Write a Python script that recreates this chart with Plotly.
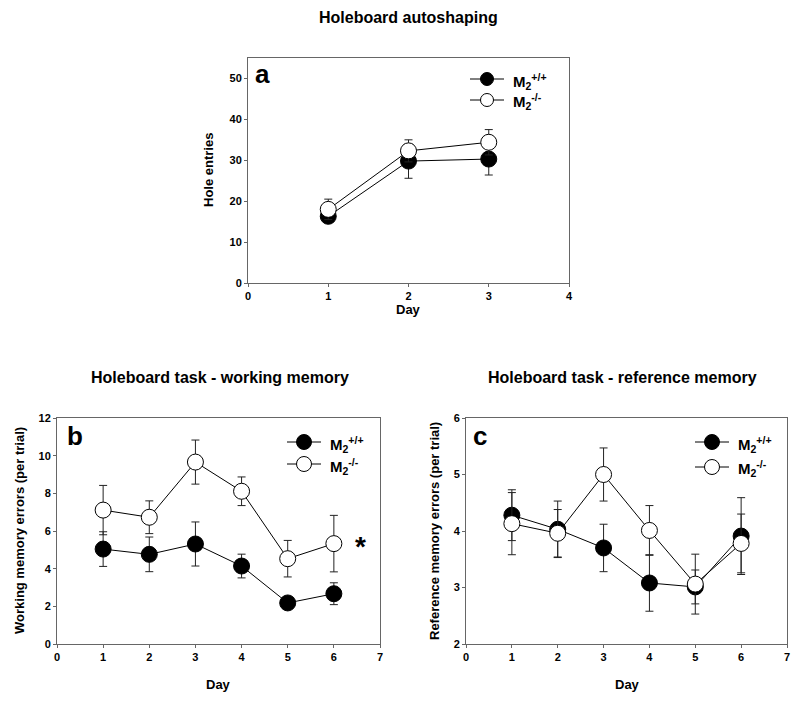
import plotly.graph_objects as go

# ---------------- data ----------------
days_a = [1, 2, 3]
a_wt = [16.3, 29.8, 30.3]
a_wt_err = [1.5, 4.2, 3.9]
a_ko = [18.0, 32.3, 34.4]
a_ko_err = [2.5, 2.7, 3.1]

days_bc = [1, 2, 3, 4, 5, 6]
b_wt = [5.04, 4.76, 5.31, 4.14, 2.18, 2.67]
b_wt_err = [0.92, 0.92, 1.17, 0.63, 0.25, 0.58]
b_ko = [7.11, 6.73, 9.66, 8.11, 4.53, 5.33]
b_ko_err = [1.31, 0.87, 1.17, 0.76, 0.97, 1.50]

c_wt = [4.28, 4.03, 3.70, 3.08, 3.01, 3.91]
c_wt_err = [0.45, 0.50, 0.42, 0.50, 0.30, 0.68]
c_ko = [4.13, 3.96, 5.00, 4.01, 3.06, 3.78]
c_ko_err = [0.55, 0.42, 0.47, 0.44, 0.53, 0.52]

titles = ["Holeboard autoshaping", "Holeboard task - working memory",
          "Holeboard task - reference memory"]
ytitles = ["Hole entries", "Working memory errors (per trial)",
           "Reference memory errors (per trial)"]
letters = ["a", "b", "c"]
legend_labels = ["M<sub>2</sub><sup>+/+</sup>", "M<sub>2</sub><sup>-/-</sup>"]

W, H = 800, 705
OFF = 8  # page body margin offset
FONT = "Liberation Sans, Arial, sans-serif"

def px(x):
    return (x - OFF) / W

def py(y):
    return 1 - (y - OFF) / H

# panel pixel boxes (screen coords): (left, right, top, bottom)
boxes = [(248, 569, 58, 283), (57, 380, 418, 644), (466, 787, 418, 644)]

fig = go.Figure()

series = [
    (days_a, a_wt, a_wt_err, a_ko, a_ko_err),
    (days_bc, b_wt, b_wt_err, b_ko, b_ko_err),
    (days_bc, c_wt, c_wt_err, c_ko, c_ko_err),
]

for i, (d, wt, wte, ko, koe) in enumerate(series):
    xa = "x" if i == 0 else f"x{i+1}"
    ya = "y" if i == 0 else f"y{i+1}"
    for vals, errs, fill in [(wt, wte, "black"), (ko, koe, "white")]:
        fig.add_trace(go.Scatter(
            x=d, y=vals, xaxis=xa, yaxis=ya, mode="lines+markers",
            line=dict(color="black", width=1),
            marker=dict(size=16, color=fill, line=dict(color="black", width=1)),
            error_y=dict(type="data", array=errs, visible=True,
                         color="#222", thickness=1, width=4),
            showlegend=False, hoverinfo="skip"))

axis_common = dict(showgrid=False, zeroline=False, showline=True, mirror=True,
                   linecolor="#666", linewidth=1, ticks="outside", ticklen=3,
                   tickcolor="#666", automargin=False,
                   tickfont=dict(family=FONT, size=11, color="black", weight="bold"))

xranges = [[0, 4], [0, 7], [0, 7]]
yranges = [[0, 55], [0, 12], [2, 6]]
ydticks = [10, 2, 1]

layout = dict(width=W, height=H, margin=dict(l=0, r=0, t=0, b=0, autoexpand=False),
              plot_bgcolor="white", paper_bgcolor="white", showlegend=False,
              template="none")

for i, (l, r, t, b) in enumerate(boxes):
    sx = "" if i == 0 else str(i + 1)
    layout["xaxis" + sx] = dict(axis_common, domain=[px(l), px(r)],
                                range=xranges[i], dtick=1, tick0=0,
                                anchor="y" + sx)
    layout["yaxis" + sx] = dict(axis_common, domain=[py(b), py(t)],
                                range=yranges[i], dtick=ydticks[i],
                                tick0=0, anchor="x" + sx)

fig.update_layout(**layout)

ann = []
# main titles
title_pos = [(408, 17), (220, 377), (622, 377)]
for txt, (x, y) in zip(titles, title_pos):
    ann.append(dict(text=f"<b>{txt}</b>", x=px(x), y=py(y), xref="paper",
                    yref="paper", showarrow=False, xanchor="center",
                    yanchor="middle", font=dict(family=FONT, size=16, color="black")))

# y titles
ytitle_pos = [(208, 170), (19, 531), (434, 531)]
for txt, (x, y) in zip(ytitles, ytitle_pos):
    ann.append(dict(text=f"<b>{txt}</b>", x=px(x), y=py(y), xref="paper",
                    yref="paper", showarrow=False, textangle=-90,
                    xanchor="center", yanchor="middle",
                    font=dict(family=FONT, size=13, color="black")))

# x titles
xtitle_pos = [(408, 309), (218, 684), (627, 684)]
for (x, y) in xtitle_pos:
    ann.append(dict(text="<b>Day</b>", x=px(x), y=py(y), xref="paper",
                    yref="paper", showarrow=False, xanchor="center",
                    yanchor="middle", font=dict(family=FONT, size=13, color="black")))

# panel letters
letter_pos = [(262, 74), (75, 436), (480, 436)]
for txt, (x, y) in zip(letters, letter_pos):
    ann.append(dict(text=f"<b>{txt}</b>", x=px(x), y=py(y), xref="paper",
                    yref="paper", showarrow=False, xanchor="center",
                    yanchor="middle", font=dict(family=FONT, size=26, color="black")))

# asterisk in panel b
ann.append(dict(text="<b>*</b>", x=6.57, y=5.2, xref="x2", yref="y2",
                showarrow=False, font=dict(family=FONT, size=28, color="black")))

# custom legends
shapes = []
legend_pos = [(487, 79, 100, 6.5), (304, 442, 464, 7.5), (712, 442, 467, 7.5)]
for (cx, y1, y2, R) in legend_pos:
    for (yy, fill, lab) in [(y1, "black", legend_labels[0]), (y2, "white", legend_labels[1])]:
        shapes.append(dict(type="line", xref="paper", yref="paper",
                           x0=px(cx - 17), x1=px(cx + 17), y0=py(yy), y1=py(yy),
                           line=dict(color="black", width=1)))
        shapes.append(dict(type="circle", xref="paper", yref="paper",
                           x0=px(cx - R), x1=px(cx + R),
                           y0=py(yy + R), y1=py(yy - R),
                           fillcolor=fill, line=dict(color="black", width=1)))
        ann.append(dict(text=f"<b>{lab}</b>", x=px(cx + 24), y=py(yy + 2),
                        xref="paper", yref="paper", showarrow=False,
                        xanchor="left", yanchor="middle",
                        font=dict(family=FONT, size=15, color="black")))

fig.update_layout(annotations=ann, shapes=shapes)
fig.write_html("out.html")
